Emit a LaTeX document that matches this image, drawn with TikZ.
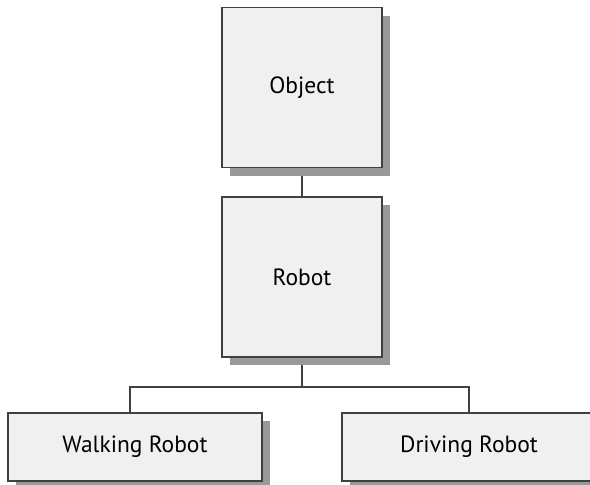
\documentclass[tikz,border=0pt]{standalone}
\usepackage{fontspec}
\setmainfont{PT Sans}
\usetikzlibrary{shadows,backgrounds}
\definecolor{boxfill}{HTML}{F0F0F0}
\definecolor{boxline}{HTML}{404040}
\definecolor{shadowgray}{HTML}{999999}
\tikzset{
  classbox/.style = {draw=boxline, line width=1.3pt, fill=boxfill,
    font=\fontsize{23.5}{28}\selectfont,
    drop shadow={shadow xshift=8pt, shadow yshift=-8pt, fill=shadowgray, opacity=1}},
  bigbox/.style = {classbox, minimum width=160pt, minimum height=160pt},
  widebox/.style = {classbox, minimum width=254pt, minimum height=68pt},
  link/.style = {draw=boxline, line width=2pt},
}
\begin{document}
\begin{tikzpicture}
      [
        x = 1pt, y = 1pt,
      ]

      \useasboundingbox (0,0) rectangle (590,-485);

      \node[bigbox] (object) at (302,-87.5) {Object};
      \node[bigbox] (robot) at (302,-277) {Robot};
      \node[widebox] (walking) at (135,-447) {Walking Robot};
      \node[widebox] (driving) at (469,-447) {Driving Robot};

      \begin{scope}[on background layer]
        \draw[link] (object.south) -- (robot.north);
        \draw[link] (robot.south) -- ++(0,-29) coordinate (fork);
        \draw[link] (fork) -| ([xshift=-5pt]walking.north);
        \draw[link] (fork) -| (driving.north);
      \end{scope}
    \end{tikzpicture}
\end{document}
